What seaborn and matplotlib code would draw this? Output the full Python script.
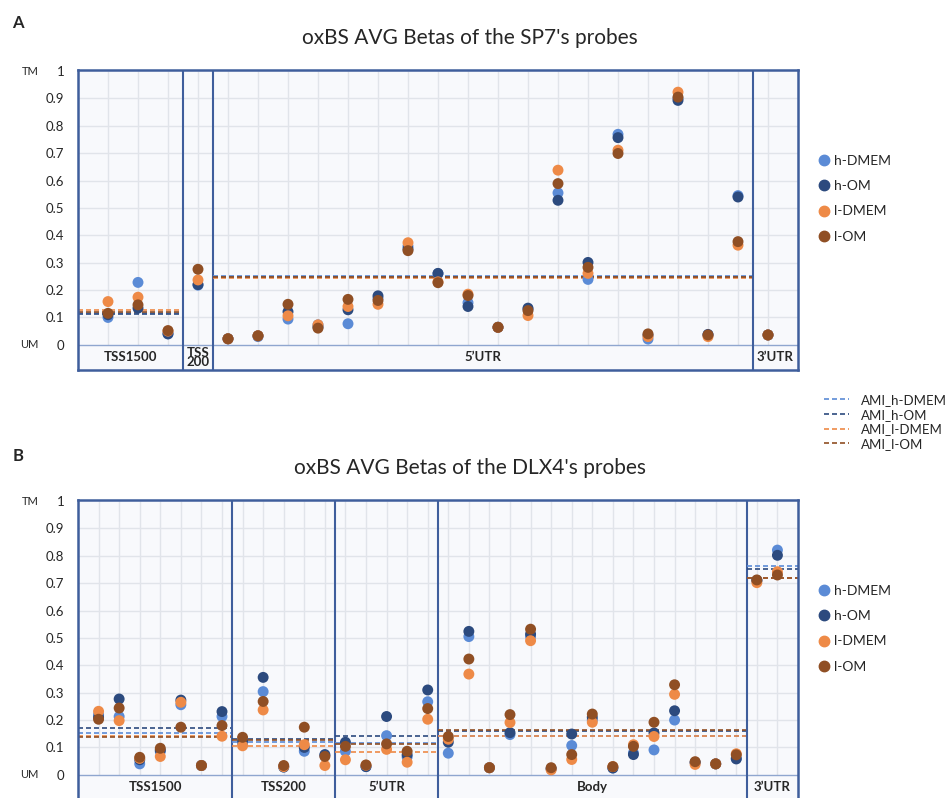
import numpy as np
import pandas as pd
import seaborn as sns
import matplotlib.pyplot as plt
from matplotlib.lines import Line2D
from matplotlib.transforms import blended_transform_factory

sns.set_style('white')
plt.rcParams['font.family'] = ['Lato', 'DejaVu Sans']

series = ['h-DMEM', 'h-OM', 'l-DMEM', 'l-OM']
colors = ['#5B8BD6', '#2C4A7E', '#EE8A47', '#904F24']
ami_names = ['AMI_h-DMEM', 'AMI_h-OM', 'AMI_l-DMEM', 'AMI_l-OM']
yticks = [0, 0.1, 0.2, 0.3, 0.4, 0.5, 0.6, 0.7, 0.8, 0.9, 1]
ytick_labels = ['0', '0.1', '0.2', '0.3', '0.4', '0.5', '0.6', '0.7', '0.8', '0.9', '1']

# SP7 probes
sp7_regions = ['TSS1500', 'TSS\n200', '5’UTR', '3’UTR']
sp7_counts = [3, 1, 18, 1]
sp7_h_dmem = [0.10, 0.228, 0.04, 0.218, 0.022, 0.03, 0.094, 0.073, 0.077, 0.17, 0.36, 0.26,
              0.154, 0.064, 0.13, 0.555, 0.239, 0.769, 0.021, 0.90, 0.035, 0.545, 0.036]
sp7_h_om = [0.11, 0.134, 0.04, 0.22, 0.022, 0.033, 0.121, 0.065, 0.128, 0.179, 0.35, 0.261,
            0.14, 0.064, 0.134, 0.528, 0.301, 0.757, 0.035, 0.893, 0.038, 0.54, 0.036]
sp7_l_dmem = [0.158, 0.174, 0.05, 0.237, 0.022, 0.033, 0.106, 0.073, 0.14, 0.148, 0.373, 0.23,
              0.185, 0.064, 0.107, 0.638, 0.261, 0.711, 0.03, 0.923, 0.03, 0.364, 0.036]
sp7_l_om = [0.115, 0.146, 0.052, 0.276, 0.022, 0.033, 0.148, 0.061, 0.166, 0.162, 0.344, 0.227,
            0.18, 0.064, 0.125, 0.589, 0.283, 0.699, 0.04, 0.905, 0.036, 0.377, 0.036]
# region averages (AMI), None where no line is drawn
sp7_ami_h_dmem = [0.116, None, 0.25, None]
sp7_ami_h_om = [0.112, None, 0.247, None]
sp7_ami_l_dmem = [0.128, None, 0.245, None]
sp7_ami_l_om = [0.12, None, 0.249, None]

# DLX4 probes
dlx4_regions = ['TSS1500', 'TSS200', '5’UTR', 'Body', '3’UTR']
dlx4_counts = [7, 5, 5, 15, 2]
dlx4_h_dmem = [0.22, 0.213, 0.04, 0.085, 0.256, 0.034, 0.213, 0.115, 0.304, 0.03, 0.086, 0.07,
               0.086, 0.03, 0.143, 0.065, 0.267, 0.079, 0.505, 0.026, 0.147, 0.505, 0.022, 0.107,
               0.2, 0.025, 0.08, 0.091, 0.2, 0.045, 0.04, 0.06, 0.71, 0.821]
dlx4_h_om = [0.21, 0.277, 0.055, 0.09, 0.273, 0.034, 0.231, 0.125, 0.356, 0.028, 0.1, 0.074,
             0.119, 0.03, 0.213, 0.073, 0.31, 0.119, 0.524, 0.026, 0.154, 0.514, 0.022, 0.149,
             0.21, 0.025, 0.074, 0.153, 0.234, 0.045, 0.04, 0.058, 0.71, 0.802]
dlx4_l_dmem = [0.232, 0.198, 0.06, 0.067, 0.265, 0.034, 0.141, 0.106, 0.237, 0.03, 0.11, 0.034,
               0.055, 0.035, 0.093, 0.046, 0.203, 0.13, 0.368, 0.026, 0.191, 0.49, 0.018, 0.056,
               0.192, 0.03, 0.11, 0.14, 0.294, 0.038, 0.04, 0.077, 0.702, 0.742]
dlx4_l_om = [0.203, 0.244, 0.064, 0.097, 0.174, 0.034, 0.18, 0.137, 0.268, 0.034, 0.174, 0.067,
             0.104, 0.036, 0.113, 0.086, 0.242, 0.14, 0.423, 0.026, 0.22, 0.532, 0.026, 0.074,
             0.222, 0.03, 0.104, 0.192, 0.329, 0.048, 0.04, 0.073, 0.712, 0.73]
dlx4_ami_h_dmem = [0.152, 0.121, 0.117, 0.14, 0.763]
dlx4_ami_h_om = [0.171, 0.131, 0.142, 0.159, 0.751]
dlx4_ami_l_dmem = [0.14, 0.107, 0.082, 0.143, 0.72]
dlx4_ami_l_om = [0.137, 0.127, 0.113, 0.164, 0.72]

frame_col = '#3F5E9C'
grid_col = '#E1E4EA'
W, H = 948, 798


def panel(ax, values, regions, counts, amis):
    n = sum(counts)
    x = np.arange(1, n + 1)
    df = pd.concat([pd.DataFrame({'x': x, 'beta': v, 'group': s})
                    for s, v in zip(series, values)], ignore_index=True)

    ax.set_facecolor('#F8F9FC')
    ax.set_xlim(0, n + 1)
    ax.set_ylim(-0.092, 1.004)
    for yv in yticks[1:-1]:
        ax.axhline(yv, color=grid_col, lw=1, zorder=0)
    ax.vlines(x, 0, 1, color=grid_col, lw=1, zorder=0)
    ax.axhline(0, color='#8FA6CF', lw=1, zorder=1)

    # region boundaries + labels + average lines
    edges = np.concatenate([[0], np.cumsum(counts) + 0.5])
    edges[-1] = n + 1
    for i, lab in enumerate(regions):
        lo, hi = edges[i], edges[i + 1]
        if i > 0:
            ax.axvline(lo, color=frame_col, lw=1.5, zorder=2)
        ax.text((lo + hi) / 2, -0.046, lab, ha='center', va='center', fontsize=9.5,
                fontweight='bold', linespacing=0.7)
        for ami, c in zip(amis, colors):
            if ami[i] is not None:
                ax.hlines(ami[i], lo, hi, color=c, lw=1.2, linestyles=(0, (3, 1.8)), zorder=2)

    sns.scatterplot(data=df, x='x', y='beta', hue='group', hue_order=series, palette=colors,
                    s=62, linewidth=0, alpha=1, legend=False, ax=ax, zorder=3)

    ax.set_xticks([])
    ax.set_yticks(yticks)
    ax.set_yticklabels(ytick_labels, fontsize=9.5)
    ax.tick_params(axis='y', length=0, pad=10)
    ax.set_xlabel('')
    ax.set_ylabel('')
    for sp in ax.spines.values():
        sp.set_visible(True)
        sp.set_color(frame_col)
        sp.set_linewidth(1.8)

    tr = blended_transform_factory(ax.figure.transFigure, ax.transData)
    ax.text(30 / W, 1, 'TM', transform=tr, ha='center', va='center', fontsize=8)
    ax.text(29 / W, 0, 'UM', transform=tr, ha='center', va='center', fontsize=8)


fig = plt.figure(figsize=(W / 100, H / 100), dpi=100)
axA = fig.add_axes([78 / W, 1 - 370 / H, 720 / W, 300 / H])
axB = fig.add_axes([78 / W, 1 - 800 / H, 720 / W, 300 / H])

panel(axA, [sp7_h_dmem, sp7_h_om, sp7_l_dmem, sp7_l_om], sp7_regions, sp7_counts,
      [sp7_ami_h_dmem, sp7_ami_h_om, sp7_ami_l_dmem, sp7_ami_l_om])
panel(axB, [dlx4_h_dmem, dlx4_h_om, dlx4_l_dmem, dlx4_l_om], dlx4_regions, dlx4_counts,
      [dlx4_ami_h_dmem, dlx4_ami_h_om, dlx4_ami_l_dmem, dlx4_ami_l_om])

fig.text(18 / W, 1 - 23 / H, 'A', fontsize=12, fontweight='bold', ha='center', va='center')
fig.text(18 / W, 1 - 456 / H, 'B', fontsize=12, fontweight='bold', ha='center', va='center')
fig.text(470 / W, 1 - 38 / H, "oxBS AVG Betas of the SP7's probes", fontsize=15,
         ha='center', va='center')
fig.text(470 / W, 1 - 468 / H, "oxBS AVG Betas of the DLX4's probes", fontsize=15,
         ha='center', va='center')

dots = [Line2D([], [], marker='o', ls='', color=c, markersize=7.5) for c in colors]
for top in (155, 585):
    fig.legend(dots, series, loc='upper left', bbox_to_anchor=(816 / W, 1 - top / H),
               frameon=False, fontsize=10, handletextpad=0.1, labelspacing=0.95,
               borderpad=0, borderaxespad=0, handlelength=1.2)

dashes = [Line2D([], [], color=c, lw=1.2, ls=(0, (3, 1.8))) for c in colors]
fig.legend(dashes, ami_names, loc='upper left', bbox_to_anchor=(824 / W, 1 - 394 / H),
           frameon=False, fontsize=9.5, handletextpad=0.9, labelspacing=0.2,
           borderpad=0, borderaxespad=0, handlelength=1.9)

fig.savefig('out.png', dpi=100)
